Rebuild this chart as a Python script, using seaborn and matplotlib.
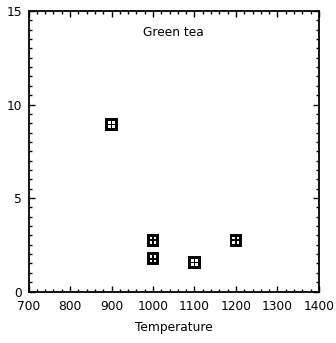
import numpy as np
import pandas as pd
import matplotlib
matplotlib.use("Agg")
import matplotlib.pyplot as plt
from matplotlib.path import Path
from matplotlib.ticker import MultipleLocator
import seaborn as sns

# Measured values for green tea
temperature = [900, 1000, 1000, 1100, 1200]
value = [8.93, 2.75, 1.75, 1.55, 2.75]

sns.set_theme(style="ticks")
plt.rcParams["font.family"] = ["DejaVu Sans"]
plt.rcParams["text.color"] = "black"
plt.rcParams["xtick.labelcolor"] = "black"
plt.rcParams["ytick.labelcolor"] = "black"
plt.rcParams["axes.labelcolor"] = "black"

df = pd.DataFrame({"Temperature": temperature, "Value": value})


def square(x0, y0, x1, y1, ccw=True):
    pts = [(x0, y0), (x1, y0), (x1, y1), (x0, y1)]
    if not ccw:
        pts = pts[::-1]
    return pts + [pts[0]]


# Filled square with four small windows
verts, codes = [], []
rings = [square(-0.5, -0.5, 0.5, 0.5, True)]
for sx in (-1, 1):
    for sy in (-1, 1):
        a, b = 0.065, 0.27
        xs = sorted((sx * a, sx * b))
        ys = sorted((sy * a, sy * b))
        rings.append(square(xs[0], ys[0], xs[1], ys[1], False))
for ring in rings:
    verts += ring
    codes += [Path.MOVETO] + [Path.LINETO] * 3 + [Path.CLOSEPOLY]
window_marker = Path(verts, codes)

fig = plt.figure(figsize=(3.36, 3.43), dpi=100)
ax = fig.add_axes([0.085, 0.150, 0.864, 0.818])

sns.scatterplot(data=df, x="Temperature", y="Value", ax=ax,
                marker=window_marker, s=85, color="black",
                edgecolor="none", linewidth=0, legend=False)

ax.set_xlim(700, 1400)
ax.set_ylim(0, 15)
ax.xaxis.set_major_locator(MultipleLocator(100))
ax.xaxis.set_minor_locator(MultipleLocator(20))
ax.yaxis.set_major_locator(MultipleLocator(5))
ax.yaxis.set_minor_locator(MultipleLocator(0.5))
ax.tick_params(which="both", direction="in", top=True, right=True,
               color="black", width=1.0, labelsize=8.8)
ax.tick_params(axis="x", pad=6)
ax.tick_params(axis="y", pad=4.5)
ax.tick_params(which="major", length=4)
ax.tick_params(which="minor", length=2.5)
for s in ax.spines.values():
    s.set_color("black")
    s.set_linewidth(1.3)

ax.set_xlabel("Temperature", fontsize=8.8, labelpad=6)
ax.set_ylabel("")
ax.text(0.5, 0.922, "Green tea", transform=ax.transAxes,
        ha="center", va="center", fontsize=8.8)

fig.savefig("out.png", dpi=100)
